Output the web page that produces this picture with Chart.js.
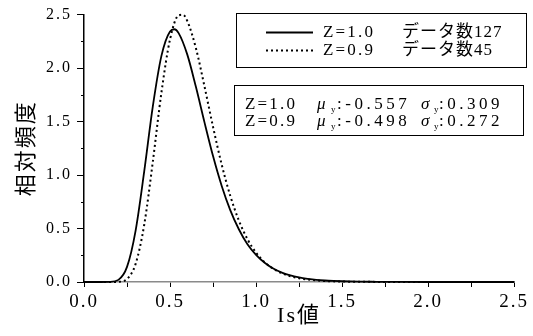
<!DOCTYPE html>
<html><head><meta charset="utf-8">
<script src="https://cdn.jsdelivr.net/npm/chart.js@4/dist/chart.umd.min.js"></script>
<style>html,body{margin:0;padding:0;background:#fff}#wrap{width:533px;height:336px}</style>
</head><body><div id="wrap"><canvas id="c" width="533" height="336"></canvas></div>
<script>
// ---- data ----
const seriesLabels = ['Z=1.0', 'Z=0.9'];
const dataCounts = ['データ数127', 'データ数45'];
const statMu = ['-0.557', '-0.498'];
const statSigma = ['0.309', '0.272'];
const xTitle = 'Is値';
const yTitle = '相対頻度';

const xs1 = [0, 0.05, 0.10, 0.15, 0.20, 0.25, 0.30, 0.35, 0.40, 0.45, 0.50, 0.525, 0.55, 0.60, 0.65, 0.70, 0.75, 0.80, 0.85, 0.90, 0.95, 1.00, 1.05, 1.10, 1.15, 1.20, 1.25, 1.30, 1.35, 1.40, 1.45, 1.50, 1.60, 1.70, 1.80, 2.00, 2.25, 2.50];
const ys1 = [0, 0, 0, 0.001, 0.020, 0.141, 0.481, 1.034, 1.642, 2.114, 2.343, 2.363, 2.327, 2.128, 1.827, 1.495, 1.177, 0.900, 0.672, 0.493, 0.353, 0.254, 0.180, 0.126, 0.088, 0.061, 0.043, 0.030, 0.020, 0.014, 0.010, 0.007, 0.003, 0.002, 0.001, 0, 0, 0];

const xs2 = [0, 0.05, 0.10, 0.15, 0.20, 0.25, 0.30, 0.35, 0.40, 0.45, 0.50, 0.55, 0.575, 0.60, 0.65, 0.70, 0.75, 0.80, 0.85, 0.90, 0.95, 1.00, 1.05, 1.10, 1.15, 1.20, 1.25, 1.30, 1.35, 1.40, 1.45, 1.50, 1.60, 1.70, 1.80, 2.00, 2.25, 2.50];
const ys2 = [0, 0, 0, 0, 0.002, 0.028, 0.169, 0.535, 1.124, 1.771, 2.268, 2.493, 2.498, 2.442, 2.189, 1.831, 1.450, 1.100, 0.807, 0.575, 0.401, 0.274, 0.185, 0.124, 0.082, 0.054, 0.035, 0.023, 0.015, 0.009, 0.006, 0.004, 0.002, 0.001, 0, 0, 0, 0];

const axisMin = 0, axisMax = 2.5, minorStep = 0.25, majorStep = 0.5;

const SERIF = '"Liberation Serif", "Noto Sans CJK JP", serif';
const isMajor = v => Math.abs(v / majorStep - Math.round(v / majorStep)) < 1e-6;

const pts = (xs, ys) => xs.map((x, i) => ({x: x, y: ys[i]}));

const spacingPlugin = {
  id: 'spacing',
  beforeUpdate(chart) { chart.ctx.letterSpacing = '2px'; },
  beforeDraw(chart) { chart.ctx.letterSpacing = '2px'; }
};

const decorPlugin = {
  id: 'decor',
  afterDraw(chart) {
    const ctx = chart.ctx;
    const ys = chart.scales.y;
    ctx.save();
    // minor ticks on y axis
    ctx.strokeStyle = '#000'; ctx.lineWidth = 1;
    for (let v = axisMin; v <= axisMax + 1e-9; v += minorStep) {
      if (isMajor(v)) continue;
      const py = Math.round(ys.getPixelForValue(v)) + 0.5;
      ctx.beginPath(); ctx.moveTo(ys.right - 3, py); ctx.lineTo(ys.right, py); ctx.stroke();
    }
    // legend box
    const ds = chart.data.datasets;
    ctx.strokeStyle = '#000'; ctx.lineWidth = 1;
    ctx.strokeRect(236.5, 13.5, 290, 54);
    const rowY = [32, 50];
    ctx.textBaseline = 'middle'; ctx.fillStyle = '#000';
    ds.forEach((d, i) => {
      ctx.save();
      ctx.strokeStyle = d.borderColor; ctx.lineWidth = d.borderWidth;
      ctx.setLineDash(d.borderDash || []);
      ctx.beginPath(); ctx.moveTo(266, rowY[i] + 0.5); ctx.lineTo(313, rowY[i] + 0.5); ctx.stroke();
      ctx.restore();
      ctx.letterSpacing = '2.2px';
      ctx.font = '17px ' + SERIF;
      ctx.fillText(d.label, 323, rowY[i] + 1);
      ctx.letterSpacing = '1px';
      ctx.fillText(dataCounts[i], 402, rowY[i] + 1);
    });
    // stats box
    ctx.strokeRect(234.5, 85.5, 289, 50);
    const sy = [105, 122];
    ds.forEach((d, i) => {
      ctx.letterSpacing = '2.2px';
      ctx.font = '17px ' + SERIF;
      ctx.fillText(d.label, 245, sy[i]);
      ctx.letterSpacing = '0px';
      ctx.font = 'italic 17px ' + SERIF;
      ctx.fillText('μ', 317, sy[i]);
      ctx.fillText('σ', 421, sy[i]);
      ctx.font = '9px ' + SERIF;
      ctx.fillText('y', 331, sy[i] + 5);
      ctx.fillText('y', 434, sy[i] + 5);
      ctx.letterSpacing = '3.5px';
      ctx.font = '17px ' + SERIF;
      ctx.fillText(':' + statMu[i], 337, sy[i]);
      ctx.fillText(':' + statSigma[i], 439, sy[i]);
    });
    ctx.restore();
  }
};

new Chart(document.getElementById('c'), {
  type: 'line',
  data: {
    datasets: [
      { label: seriesLabels[0], data: pts(xs1, ys1), borderColor: '#000', borderWidth: 1.8,
        pointRadius: 0, cubicInterpolationMode: 'monotone', fill: false, clip: 4 },
      { label: seriesLabels[1], data: pts(xs2, ys2), borderColor: '#000', borderWidth: 2,
        borderDash: [2, 3], pointRadius: 0, cubicInterpolationMode: 'monotone', fill: false, clip: 4 }
    ]
  },
  options: {
    responsive: false, animation: false, devicePixelRatio: 1,
    layout: { padding: { top: 14, right: 16, left: 0, bottom: 0 } },
    plugins: { legend: { display: false }, tooltip: { enabled: false } },
    scales: {
      x: {
        type: 'linear', min: axisMin, max: axisMax,
        afterFit: s => { s.height = 54; },
        ticks: { stepSize: minorStep, autoSkip: false, maxRotation: 0, padding: 4, color: '#000',
          font: { family: SERIF, size: 19 },
          callback: v => isMajor(v) ? Number(v).toFixed(1) : '' },
        grid: { display: true, drawOnChartArea: false, drawTicks: true, tickLength: 5, color: '#000', lineWidth: 1 },
        border: { display: true, color: '#8a8a8a', width: 1.5 },
        title: { display: true, text: xTitle, color: '#000', font: { family: SERIF, size: 22 }, padding: { top: 0, bottom: 7 } }
      },
      y: {
        min: axisMin, max: axisMax,
        afterFit: s => { s.width = 84; },
        ticks: { stepSize: minorStep, autoSkip: false, padding: 5, color: '#000',
          font: { family: SERIF, size: 16 },
          callback: v => isMajor(v) ? Number(v).toFixed(1) : '' },
        grid: { display: true, drawOnChartArea: false, drawTicks: true, tickLength: 7, lineWidth: 1,
          tickColor: c => (c.tick && isMajor(c.tick.value)) ? '#000' : 'rgba(0,0,0,0)' },
        border: { display: true, color: '#000', width: 1.5 },
        title: { display: true, text: yTitle, color: '#000', font: { family: '"Noto Sans CJK JP", sans-serif', size: 22 }, padding: { top: 11, bottom: 0 } }
      }
    }
  },
  plugins: [spacingPlugin, decorPlugin]
});
</script></body></html>
